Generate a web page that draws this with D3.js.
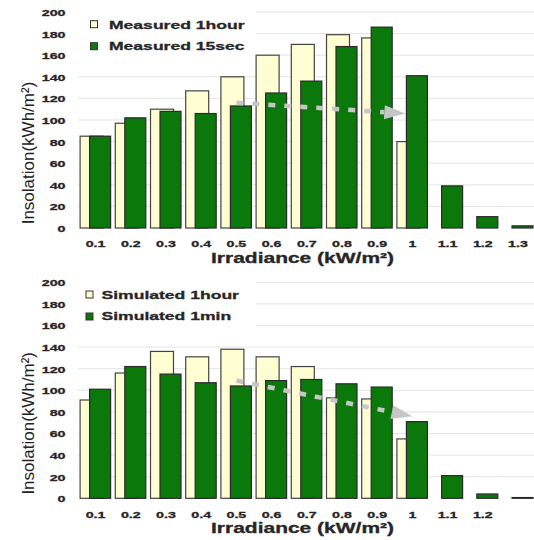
<!DOCTYPE html>
<html lang="en">

<head>
  <meta charset="UTF-8">
  <title>Insolation vs Irradiance</title>
  <script src="https://cdnjs.cloudflare.com/ajax/libs/d3/7.8.5/d3.min.js"></script>
  <style>
    body { margin: 0; background: #fff; }
    svg { display: block; font-family: "Liberation Sans", Arial, sans-serif; }
  </style>
</head>

<body>
  <svg></svg>

  <script>
    const width = 534;
    const height = 540;

    // categories (irradiance, kW/m²)
    const categories = ["0.1", "0.2", "0.3", "0.4", "0.5", "0.6", "0.7", "0.8", "0.9", "1", "1.1", "1.2", "1.3"];
    const topTickLabels = ["0.1", "0.2", "0.3", "0.4", "0.5", "0.6", "0.7", "0.8", "0.9", "1", "1.1", "1.2", "1.3"];
    const bottomTickLabels = ["0.1", "0.2", "0.3", "0.4", "0.5", "0.6", "0.7", "0.8", "0.9", "1", "1.1", "1.2"];
    const yTicks = [0, 20, 40, 60, 80, 100, 120, 140, 160, 180, 200];

    // insolation values (kWh/m²)
    const measured1hour = [85, 97, 110, 127, 140, 160, 170, 179, 176, 80, 0, 0, 0];
    const measured15sec = [85, 102, 108, 106, 113, 125, 136, 168, 186, 141, 39, 10.5, 2];
    const simulated1hour = [91, 116, 136, 131, 138, 131, 122, 93, 92, 55, 0, 0, 0];
    const simulated1min = [101, 122, 115, 107, 104, 109, 110, 106, 103, 71, 21, 4, 0.7];

    // trend arrows: [irradiance, insolation]
    const topArrow = [[0.5, 116], [0.98, 106]];
    const bottomArrow = [[0.5, 109], [1.0, 76]];

    const cream = "#fffdd2";
    const green = "#0a780a";
    const stretch = 1.5; // fonts in the picture are very wide

    const svg = d3.select("svg").attr("width", width).attr("height", height);

    const x = d3.scaleBand().domain(categories).range([78, 78 + 13 * 35.2]).padding(0);
    // continuous version of the same axis for the arrows
    const xc = d3.scaleLinear().domain([0.1, 1.3]).range([x("0.1") + x.bandwidth() / 2, x("1.3") + x.bandwidth() / 2]);

    // heavy bold look of the scanned labels
    function heavy(sel, size) {
      sel.attr("fill", "#262626")
        .attr("stroke", "#262626")
        .attr("stroke-width", 0.3)
        .style("font-size", size)
        .style("font-weight", "bold")
        .style("font-family", "'Liberation Sans', Arial, sans-serif");
    }

    function drawPanel(offsetY, oneHour, fast, labels, tickLabels, arrow) {
      const g = svg.append("g").attr("transform", `translate(0,${offsetY})`);
      const y = d3.scaleLinear().domain([0, 200]).range([228, 12]);

      // grid
      g.append("g")
        .selectAll("line")
        .data(yTicks.filter(d => d > 0))
        .join("line")
        .attr("x1", 78).attr("x2", width)
        .attr("y1", d => y(d)).attr("y2", d => y(d))
        .attr("stroke", "#e4e4e4")
        .attr("stroke-width", 1);

      // legend background hides the grid
      g.append("rect")
        .attr("x", 76).attr("y", 4).attr("width", 180).attr("height", 54)
        .attr("fill", "#fff");

      // y axis
      const yAxis = g.append("g")
        .attr("transform", "translate(65.5,0)")
        .call(d3.axisLeft(y).tickValues(yTicks).tickSize(0).tickPadding(0));
      yAxis.select(".domain").remove();
      yAxis.selectAll("text")
        .attr("x", 0)
        .attr("dy", "0.36em")
        .attr("transform", `scale(${stretch},1)`)
        .call(heavy, "9.5px");

      // x axis
      const xAxis = g.append("g")
        .attr("transform", "translate(0,247.3)")
        .call(d3.axisBottom(x).tickValues(tickLabels).tickSize(0).tickPadding(0));
      xAxis.select(".domain").remove();
      xAxis.selectAll("text")
        .attr("y", 0)
        .attr("dy", 0)
        .attr("transform", `scale(${stretch},1)`)
        .call(heavy, "9.5px");

      // bars: long interval behind, short interval in front
      g.append("g")
        .selectAll("rect")
        .data(categories.map((c, i) => ({ c, v: oneHour[i] })).filter(d => d.v > 0))
        .join("rect")
        .attr("x", d => x(d.c) + x.bandwidth() / 2 - 15.5)
        .attr("width", 23)
        .attr("y", d => y(d.v))
        .attr("height", d => y(0) - y(d.v))
        .attr("fill", cream)
        .attr("stroke", "#444")
        .attr("stroke-width", 1.2);

      g.append("g")
        .selectAll("rect")
        .data(categories.map((c, i) => ({ c, v: fast[i] })))
        .join("rect")
        .attr("x", d => x(d.c) + x.bandwidth() / 2 - 6)
        .attr("width", 21)
        .attr("y", d => y(d.v))
        .attr("height", d => y(0) - y(d.v))
        .attr("fill", green)
        .attr("stroke", "#2a2a2a")
        .attr("stroke-width", 1.2);

      // trend arrow
      const p0 = [xc(arrow[0][0]), y(arrow[0][1])];
      const p1 = [xc(arrow[1][0]), y(arrow[1][1])];
      const ang = Math.atan2(p1[1] - p0[1], p1[0] - p0[0]);
      const headLen = 21, headHalf = 7;
      const base = [p1[0] - headLen * Math.cos(ang), p1[1] - headLen * Math.sin(ang)];
      g.append("line")
        .attr("x1", p0[0]).attr("y1", p0[1])
        .attr("x2", base[0]).attr("y2", base[1])
        .attr("stroke", "#c6c6c6")
        .attr("stroke-width", 4.5)
        .attr("stroke-dasharray", "7 9");
      g.append("path")
        .attr("d", d3.line()([
          p1,
          [base[0] + headHalf * Math.sin(ang), base[1] - headHalf * Math.cos(ang)],
          [base[0] - headHalf * Math.sin(ang), base[1] + headHalf * Math.cos(ang)]
        ]) + "Z")
        .attr("fill", "#c6c6c6");

      // legend
      const legend = g.append("g");
      labels.forEach((lab, i) => {
        legend.append("rect")
          .attr("x", lab.sx).attr("y", 20.7 + i * 22)
          .attr("width", 7).attr("height", 7)
          .attr("fill", i === 0 ? cream : green)
          .attr("stroke", "#333")
          .attr("stroke-width", 1);
        legend.append("text")
          .attr("transform", `translate(${lab.tx},${28.5 + i * 21.5}) scale(${stretch},1)`)
          .call(heavy, "11.7px")
          .text(lab.text);
      });

      // axis titles
      g.append("text")
        .attr("transform", `translate(302.5,263) scale(${stretch},1)`)
        .attr("text-anchor", "middle")
        .call(heavy, "14px")
        .text("Irradiance (kW/m²)");

      g.append("text")
        .attr("transform", "translate(33.5,153) rotate(-90)")
        .attr("text-anchor", "middle")
        .attr("fill", "#222")
        .style("font-size", "17px")
        .text("Insolation(kWh/m²)");
    }

    drawPanel(0, measured1hour, measured15sec,
      [{ text: "Measured 1hour", sx: 90.5, tx: 109 }, { text: "Measured 15sec", sx: 90.5, tx: 109 }],
      topTickLabels, topArrow);

    drawPanel(270.3, simulated1hour, simulated1min,
      [{ text: "Simulated 1hour", sx: 86, tx: 101.5 }, { text: "Simulated 1min", sx: 86, tx: 101.5 }],
      bottomTickLabels, bottomArrow);
  </script>
</body>

</html>
